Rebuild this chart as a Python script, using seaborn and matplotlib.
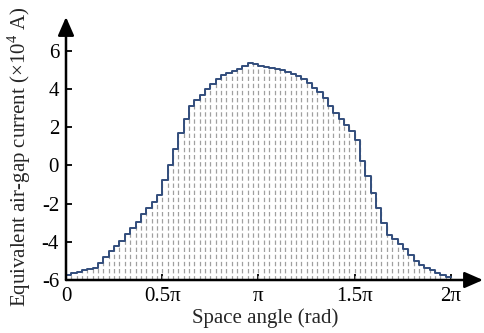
import numpy as np
import pandas as pd
import matplotlib
matplotlib.use("Agg")
import matplotlib.pyplot as plt
import seaborn as sns

# Step values of the equivalent air-gap current (x10^4 A), 72 slots over 0..2pi
current = [-5.72, -5.64, -5.57, -5.50, -5.43, -5.35, -5.09, -4.78, -4.49, -4.22,
           -3.96, -3.58, -3.27, -2.95, -2.57, -2.25, -1.90, -1.55, -0.75, 0.04,
           0.87, 1.69, 2.43, 3.11, 3.40, 3.70, 3.97, 4.25, 4.52, 4.70,
           4.82, 4.94, 5.04, 5.17, 5.34, 5.28, 5.22, 5.16, 5.09, 5.03,
           4.97, 4.90, 4.80, 4.68, 4.54, 4.30, 4.04, 3.83, 3.51, 3.12,
           2.73, 2.42, 2.12, 1.77, 1.34, 0.21, -0.57, -1.44, -2.22, -3.00,
           -3.62, -3.88, -4.14, -4.40, -4.71, -5.01, -5.23, -5.35, -5.48, -5.61,
           -5.74, -5.82]
x_ticks = [0, 0.5 * np.pi, np.pi, 1.5 * np.pi, 2 * np.pi]
x_ticklabels = ["0", "0.5\u03c0", "\u03c0", "1.5\u03c0", "2\u03c0"]
y_ticks = [-6, -4, -2, 0, 2, 4, 6]
y_ticklabels = ["-6", "-4", "-2", "0", "2", "4", "6"]
xlabel = "Space angle (rad)"
ylabel = "Equivalent air-gap current (\u00d710$^{\\mathrm{4}}$ A)"

sns.set_style("ticks")
plt.rcParams["font.family"] = ["Liberation Serif", "DejaVu Serif"]
plt.rcParams["mathtext.fontset"] = "custom"
plt.rcParams["mathtext.rm"] = "Liberation Serif"
plt.rcParams["axes.unicode_minus"] = False

n = len(current)
edges = np.linspace(0, 2 * np.pi, n + 1)
df = pd.DataFrame({"angle": edges, "current": current + [current[-1]]})

fig = plt.figure(figsize=(4.85, 3.33), dpi=100)
W, H = 485, 333
x0, x1, yb, yt = 66, 483, 280, 17
ax = fig.add_axes([x0 / W, (H - yb) / H, (x1 - x0) / W, (yb - yt) / H])

ymin = -6
ymax = 6 + (50.7 - 17) / 19.17
xmax = 2 * np.pi * (x1 - x0) / (451 - 66)
ax.set_xlim(0, xmax)
ax.set_ylim(ymin, ymax)

# dashed slot lines
heights = [max(current[max(i - 1, 0)], current[min(i, n - 1)]) for i in range(n + 1)]
ax.vlines(edges[1:], ymin, heights[1:], colors="#a0a0a0", linestyles=(0, (3.5, 2.2)),
          linewidth=0.9, zorder=1)

sns.lineplot(data=df, x="angle", y="current", drawstyle="steps-post",
             color="#324d7c", linewidth=1.4, ax=ax, zorder=3)

for s in ax.spines.values():
    s.set_visible(False)

arrow = dict(arrowstyle="-|>,head_length=0.8,head_width=0.35", color="k", lw=1.8,
             shrinkA=0, shrinkB=0, mutation_scale=14)
ax.annotate("", xy=(xmax, ymin), xytext=(0, ymin), arrowprops=arrow,
            annotation_clip=False, zorder=5)
ax.annotate("", xy=(0, ymax), xytext=(0, ymin), arrowprops=arrow,
            annotation_clip=False, zorder=5)

ax.set_xticks(x_ticks)
ax.set_xticklabels(x_ticklabels)
ax.set_yticks(y_ticks)
ax.set_yticklabels(y_ticklabels)
ax.tick_params(axis="both", direction="in", length=4, width=1.3, labelsize=15,
               colors="k", pad=5)

ax.set_xlabel(xlabel, fontsize=15)
ax.set_ylabel(ylabel, fontsize=15)
ax.xaxis.set_label_coords((265 - x0) / (x1 - x0), (yb - 308) / (yb - yt))
ax.yaxis.set_label_coords((33 - x0) / (x1 - x0), (yb - 157) / (yb - yt))

fig.savefig("out.png", dpi=100)
